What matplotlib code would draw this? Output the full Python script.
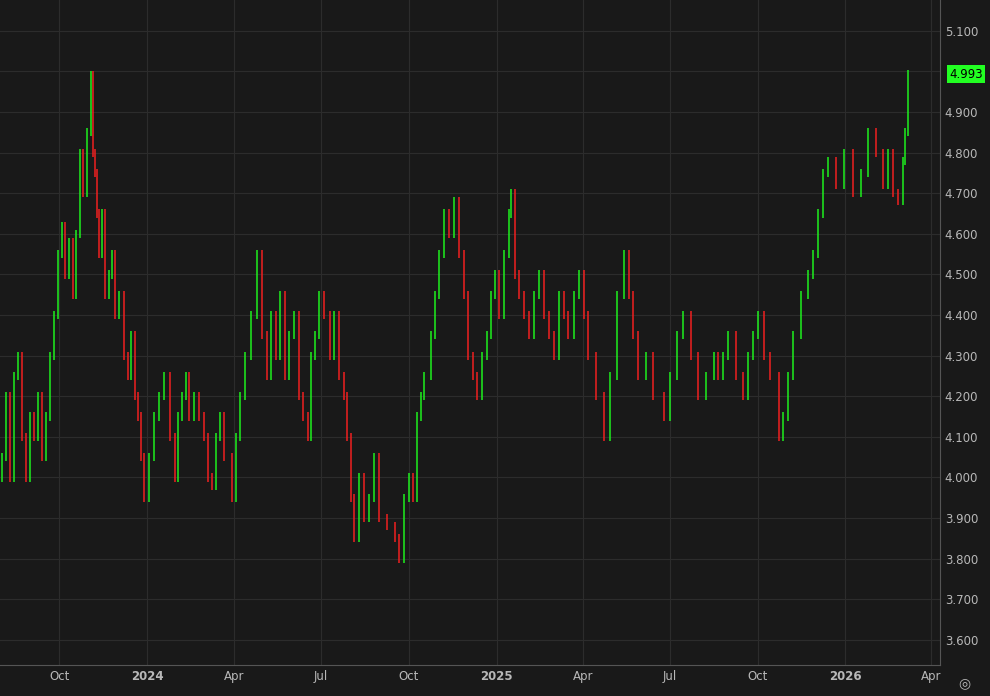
import numpy as np
import pandas as pd
import matplotlib.pyplot as plt
import matplotlib.dates as mdates

# approximate closes, Aug 2023 -> Mar 2026
closes = [4.05, 4.20, 4.00, 4.25, 4.30, 4.10, 4.00, 4.15, 4.10, 4.20, 4.05, 4.15, 4.30, 4.40,
          4.55, 4.62, 4.50, 4.58, 4.45, 4.60, 4.80, 4.70, 4.85, 4.99, 4.80, 4.75, 4.65, 4.55,
          4.65, 4.45, 4.50, 4.55, 4.40, 4.45, 4.30, 4.25, 4.35, 4.20, 4.15, 4.05, 3.95, 4.05,
          4.15, 4.20, 4.25, 4.10, 4.00, 4.15, 4.20, 4.25, 4.15, 4.20, 4.15, 4.10, 4.00, 3.98,
          4.10, 4.15, 4.05, 3.95, 4.10, 4.20, 4.30, 4.40, 4.55, 4.35, 4.25, 4.40, 4.30, 4.45,
          4.25, 4.35, 4.40, 4.20, 4.15, 4.10, 4.30, 4.35, 4.45, 4.40, 4.30, 4.40, 4.25, 4.20,
          4.10, 3.95, 3.85, 4.00, 3.90, 3.95, 4.05, 3.90, 3.88, 3.85, 3.80, 3.95, 4.00, 3.95,
          4.15, 4.20, 4.25, 4.35, 4.45, 4.55, 4.65, 4.60, 4.68, 4.55, 4.45, 4.30, 4.25, 4.20,
          4.30, 4.35, 4.45, 4.50, 4.40, 4.55, 4.65, 4.70, 4.50, 4.45, 4.40, 4.35, 4.45, 4.50,
          4.40, 4.35, 4.30, 4.45, 4.40, 4.35, 4.45, 4.50, 4.40, 4.30, 4.20, 4.10, 4.25, 4.45,
          4.55, 4.45, 4.35, 4.25, 4.30, 4.20, 4.15, 4.25, 4.35, 4.40, 4.30, 4.20, 4.25, 4.30,
          4.25, 4.30, 4.35, 4.25, 4.20, 4.30, 4.35, 4.40, 4.30, 4.25, 4.10, 4.15, 4.25, 4.35,
          4.45, 4.50, 4.55, 4.65, 4.75, 4.78, 4.72, 4.80, 4.70, 4.75, 4.85, 4.80, 4.72, 4.80,
          4.70, 4.68, 4.78, 4.85, 4.993]
opens = [4.00] + closes[:-1]

# dates of selected bars (index -> day offset from 2023-07-31)
anchor_idx = [0, 13, 23, 27, 32, 35, 40, 44, 46, 50, 53, 55, 58, 59, 62, 64, 67, 70, 72, 75,
              78, 80, 83, 86, 88, 91, 93, 94, 96, 98, 100, 101, 103, 105, 108, 111, 113, 116,
              118, 119, 121, 124, 126, 128, 131, 133, 135, 137, 140, 143, 145, 146, 149, 151,
              153, 156, 158, 161, 163, 164, 167, 169, 171, 173, 175, 176, 178, 180, 182, 184, 186]
anchor_day = [2, 57, 95, 104, 120, 134, 151, 172, 183, 198, 214, 222, 235, 243, 256, 269, 284,
              298, 308, 322, 334, 345, 360, 371, 381, 397, 413, 418, 428, 437, 444, 451, 460,
              470, 486, 499, 510, 522, 533, 535, 543, 559, 569, 580, 595, 606, 616, 632, 653,
              668, 684, 695, 715, 731, 747, 762, 778, 794, 806, 815, 830, 846, 856, 867, 883,
              893, 909, 924, 935, 945, 950]
last_price = "4.993"
y_ticks = [3.6, 3.7, 3.8, 3.9, 4.0, 4.1, 4.2, 4.3, 4.4, 4.5, 4.6, 4.7, 4.8, 4.9, 5.0, 5.1]

day_off = np.interp(np.arange(len(closes)), anchor_idx, anchor_day)
dates = pd.Timestamp("2023-07-31") + pd.to_timedelta(day_off, unit="D")

bg = "#191919"
green = "#1ef01e"
red = "#f02020"

fig = plt.figure(figsize=(9.9, 6.96), dpi=100, facecolor=bg)
ax = fig.add_axes([0, 0.0445, 0.9495, 0.9555], facecolor=bg)

cols = [green if c >= o else red for o, c in zip(opens, closes)]
ax.vlines(dates, [min(o, c) - 0.01 for o, c in zip(opens, closes)],
          [max(o, c) + 0.01 for o, c in zip(opens, closes)], colors=cols, linewidth=1.1)

ax.set_ylim(3.538, 5.176)
ax.set_xlim(pd.Timestamp("2023-07-31"), pd.Timestamp("2026-04-10"))
ax.yaxis.tick_right()
ax.set_yticks(y_ticks)
# the last-price tag covers the 5.000 label
ax.yaxis.set_major_formatter(plt.FuncFormatter(
    lambda v, p: "" if abs(v - 5.0) < 1e-6 else f"{v:.3f}"))
ax.xaxis.set_major_locator(mdates.MonthLocator(bymonth=[1, 4, 7, 10]))
ax.xaxis.set_major_formatter(plt.FuncFormatter(
    lambda v, p: mdates.num2date(v).strftime("%Y") if mdates.num2date(v).month == 1
    else mdates.num2date(v).strftime("%b")))
ax.grid(True, color="#2c2c2c", linewidth=0.8)
ax.tick_params(colors="#b8b8b8", labelsize=8.5, length=0)
for lbl in ax.get_xticklabels():
    if lbl.get_text().isdigit():
        lbl.set_fontweight("bold")
for s in ["top", "left"]:
    ax.spines[s].set_visible(False)
ax.spines["right"].set_color("#555555")
ax.spines["bottom"].set_color("#555555")

ax.text(1.01, (4.993 - 3.538) / (5.176 - 3.538), last_price, transform=ax.transAxes,
        ha="left", va="center", fontsize=8.5, color="black",
        bbox=dict(boxstyle="square,pad=0.2", fc="#22ff22", ec="none"))
fig.text(0.974, 0.018, "◎", color="#b8b8b8", fontsize=10, ha="center", va="center")

fig.savefig("out.png", facecolor=bg)
